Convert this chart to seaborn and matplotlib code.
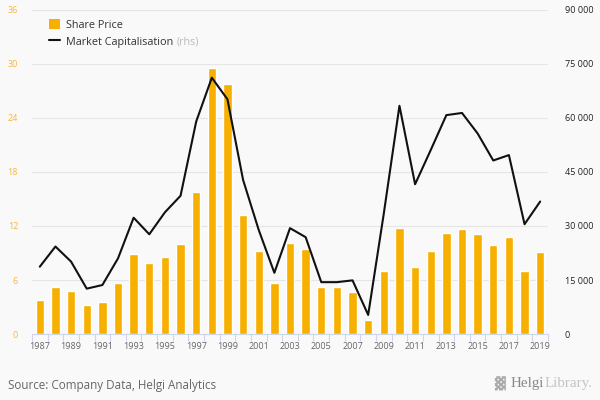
import matplotlib
matplotlib.use("Agg")
import matplotlib.pyplot as plt
import seaborn as sns
import pandas as pd
import numpy as np
from matplotlib.patches import Patch
from matplotlib.lines import Line2D
from matplotlib.ticker import FuncFormatter, MultipleLocator

years = list(range(1987, 2020))
share_price = [3.8, 5.26, 4.8, 3.19, 3.56, 5.63, 8.89, 7.85, 8.52, 10.04, 15.74, 29.6, 27.8,
               13.26, 9.26, 5.63, 10.15, 9.44, 5.19, 5.19, 4.7, 1.56, 7.0, 11.74, 7.48, 9.19,
               11.26, 11.63, 11.07, 9.93, 10.78, 7.0, 9.11]
market_cap = [18700, 24300, 20100, 12600, 13600, 21000, 32300, 27700, 33800, 38400, 59000,
              71200, 65200, 42800, 28900, 17000, 29400, 26900, 14400, 14400, 14900, 5300,
              33500, 63400, 41600, 51100, 60800, 61400, 55700, 48200, 49700, 30500, 36800]
left_ticks = [0, 6, 12, 18, 24, 30, 36]
right_ticks = [0, 15000, 30000, 45000, 60000, 75000, 90000]

df = pd.DataFrame({"year": years, "price": share_price, "mcap": market_cap})

BG = "#f9f9f9"
BAR = "#f7af00"
sns.set_style("white")
plt.rcParams["font.family"] = ["Open Sans", "DejaVu Sans"]

fig = plt.figure(figsize=(6, 4), dpi=100, facecolor=BG)
ax = fig.add_axes([32 / 600, 66 / 400, (548 - 32) / 600, (334 - 10) / 400])
ax.set_facecolor(BG)

sns.barplot(data=df, x="year", y="price", native_scale=True, color=BAR, width=0.54,
            saturation=1, ax=ax, zorder=2)
ax.set_xlim(1986.5, 2019.5)
ax.set_ylim(0, 36)
ax.set_yticks(left_ticks)
ax.yaxis.grid(True, color="#e6e6e6", linewidth=0.8, zorder=0)
ax.set_axisbelow(True)
for s in ["top", "right", "left"]:
    ax.spines[s].set_visible(False)
ax.spines["bottom"].set_color("#ccd6eb")
ax.spines["bottom"].set_linewidth(0.8)

ax.set_xticks([y for y in years if (y - 1987) % 2 == 0])
ax.set_xticklabels([str(y) for y in years if (y - 1987) % 2 == 0])
ax.xaxis.set_minor_locator(MultipleLocator(1, offset=0.5))
ax.tick_params(axis="x", which="major", length=0, pad=6, labelsize=6.5, labelcolor="#666666")
ax.tick_params(axis="x", which="minor", length=5, width=0.8, color="#ccd6eb", bottom=True)
ax.tick_params(axis="y", length=0, pad=10, labelsize=6.5, labelcolor="#f5b835")
ax.set_xlabel("")
ax.set_ylabel("")

ax2 = ax.twinx()
sns.lineplot(data=df, x="year", y="mcap", color="#111111", linewidth=1.5, ax=ax2, zorder=3)
ax2.set_ylim(0, 90000)
ax2.set_yticks(right_ticks)
ax2.yaxis.set_major_formatter(FuncFormatter(lambda v, p: f"{int(v):,}".replace(",", " ")))
ax2.tick_params(axis="y", length=0, pad=12, labelsize=6.5, labelcolor="#222222")
for s in ["top", "right", "left", "bottom"]:
    ax2.spines[s].set_visible(False)
ax2.set_ylabel("")
ax2.set_xlabel("")
ax2.set_xlim(1986.5, 2019.5)

handles = [Patch(facecolor=BAR, edgecolor="none"),
           Line2D([0], [0], color="#111111", linewidth=1.5)]
leg = ax.legend(handles, ["Share Price", "Market Capitalisation"], loc="upper left",
                bbox_to_anchor=(49 / 600, 1 - 19 / 400), bbox_transform=fig.transFigure,
                frameon=False, fontsize=7.8, handlelength=1.0, handleheight=1.0,
                handletextpad=0.6, labelspacing=0.5, borderaxespad=0, borderpad=0)
for t in leg.get_texts():
    t.set_color("#333333")

fig.canvas.draw()
bb = leg.get_texts()[1].get_window_extent()
fig.text(bb.x1 + 3, (bb.y0 + bb.y1) / 2, "(rhs)", fontsize=7.8, color="#bbbbbb",
         va="center", ha="left", transform=None)

fig.text(8 / 600, 1 - 385 / 400, "Source: Company Data, Helgi Analytics", fontsize=8.4,
         color="#666666", va="center", ha="left")
t1 = fig.text(511 / 600, 1 - 384 / 400, "Helgi", fontsize=10.8, color="#888888",
              family=["Liberation Serif", "DejaVu Serif"], va="center", ha="left")
fig.canvas.draw()
b1 = t1.get_window_extent()
fig.text(b1.x1, (b1.y0 + b1.y1) / 2, "Library.", fontsize=10.8, color="#c4c4c4",
         family=["Liberation Serif", "DejaVu Serif"], va="center", ha="left", transform=None)
fig.text(499 / 600, 1 - 384 / 400, "\u2593", fontsize=10, color="#aaaaaa",
         va="center", ha="center", family=["DejaVu Sans"])

fig.savefig("out.png", dpi=100, facecolor=BG)
